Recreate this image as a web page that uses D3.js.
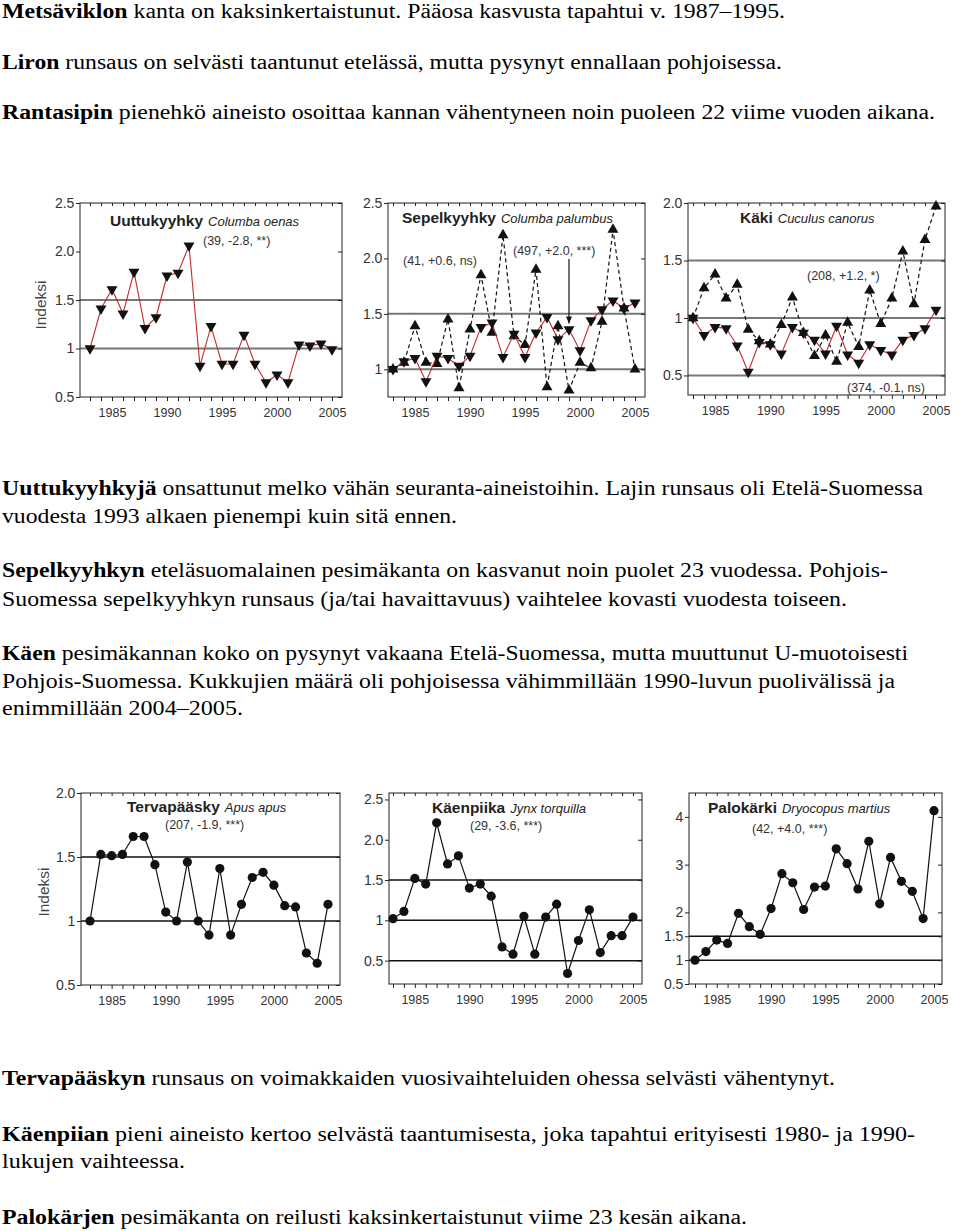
<!DOCTYPE html>
<html>
<head>
<meta charset="utf-8">
<script src="https://cdn.jsdelivr.net/npm/d3@7"></script>
<style>
  body { margin: 0; background: #fff; }
  svg { display: block; }
  .para { font-family: "Liberation Serif", "Times New Roman", "DejaVu Serif", serif; }
  .sans { font-family: "Liberation Sans", Arial, "DejaVu Sans", sans-serif; }
</style>
</head>
<body>
<svg id="page" width="960" height="1231"></svg>
<script>
// ---- data ----
const years = [1983, 1984, 1985, 1986, 1987, 1988, 1989, 1990, 1991, 1992, 1993, 1994,
               1995, 1996, 1997, 1998, 1999, 2000, 2001, 2002, 2003, 2004, 2005];

const uuttuSouth = [1.0, 1.41, 1.61, 1.36, 1.79, 1.21, 1.32, 1.75, 1.78, 2.06, 0.82, 1.23,
                    0.84, 0.84, 1.14, 0.84, 0.65, 0.73, 0.65, 1.04, 1.03, 1.05, 0.99];

const sepelSouth = [1.0, 1.07, 1.10, 0.89, 1.12, 1.10, 1.03, 1.12, 1.38, 1.42, 1.11, 1.32,
                    1.11, 1.33, 1.47, 1.27, 1.36, 1.17, 1.44, 1.54, 1.62, 1.55, 1.60];
const sepelNorth = [1.0, 1.06, 1.39, 1.06, 1.05, 1.45, 0.83, 1.36, 1.85, 1.33, 2.21, 1.30,
                    1.22, 1.90, 0.84, 1.39, 0.81, 1.06, 1.01, 1.43, 2.26, 1.55, 1.0];

const kakiSouth = [1.0, 0.85, 0.92, 0.91, 0.76, 0.53, 0.79, 0.77, 0.69, 0.92, 0.87, 0.81,
                   0.69, 0.93, 0.68, 0.61, 0.77, 0.72, 0.68, 0.81, 0.85, 0.91, 1.07];
const kakiNorth = [1.0, 1.26, 1.38, 1.17, 1.29, 0.90, 0.80, 0.77, 0.94, 1.18, 0.87, 0.67,
                   0.85, 0.62, 0.96, 0.75, 1.24, 0.95, 1.17, 1.58, 1.12, 1.68, 1.97];

const tervaIndex = [1.0, 1.52, 1.51, 1.52, 1.66, 1.66, 1.44, 1.07, 1.0, 1.46, 1.0, 0.89,
                    1.41, 0.89, 1.13, 1.34, 1.38, 1.28, 1.12, 1.11, 0.75, 0.67, 1.13];

const kaenpiikaIndex = [1.02, 1.11, 1.52, 1.45, 2.21, 1.70, 1.80, 1.40, 1.45, 1.30, 0.67, 0.58,
                        1.05, 0.58, 1.04, 1.20, 0.34, 0.75, 1.13, 0.60, 0.81, 0.81, 1.04];

const palokarkiIndex = [1.0, 1.18, 1.42, 1.35, 1.98, 1.70, 1.54, 2.08, 2.81, 2.62, 2.06, 2.53,
                        2.55, 3.33, 3.02, 2.49, 3.49, 2.18, 3.15, 2.65, 2.44, 1.87, 4.13];

const yearLabels = [1985, 1990, 1995, 2000, 2005];
const ticks25 = [0.5, 1, 1.5, 2, 2.5];
const labels25 = ["0.5", "1", "1.5", "2.0", "2.5"];
const ticksSepel = [1, 1.5, 2, 2.5];
const labelsSepel = ["1", "1.5", "2.0", "2.5"];
const ticks20 = [0.5, 1, 1.5, 2];
const labels20 = ["0.5", "1", "1.5", "2.0"];
const ticksPalo = [0.5, 1, 1.5, 2, 3, 4];
const labelsPalo = ["0.5", "1", "1.5", "2", "3", "4"];

// ---- paragraphs ----
const textLines = [
  { y: 18,   end: 785, b: "Metsäviklon", t: " kanta on kaksinkertaistunut. Pääosa kasvusta tapahtui v. 1987–1995." },
  { y: 69,   end: 782, b: "Liron", t: " runsaus on selvästi taantunut etelässä, mutta pysynyt ennallaan pohjoisessa." },
  { y: 119,  end: 935, b: "Rantasipin", t: " pienehkö aineisto osoittaa kannan vähentyneen noin puoleen 22 viime vuoden aikana." },
  { y: 495,  end: 923, b: "Uuttukyyhkyjä", t: " onsattunut melko vähän seuranta-aineistoihin. Lajin runsaus oli Etelä-Suomessa" },
  { y: 523,  end: 457, b: "", t: "vuodesta 1993 alkaen pienempi kuin sitä ennen." },
  { y: 577,  end: 888, b: "Sepelkyyhkyn", t: " eteläsuomalainen pesimäkanta on kasvanut noin puolet 23 vuodessa. Pohjois-" },
  { y: 606,  end: 847, b: "", t: "Suomessa sepelkyyhkyn runsaus (ja/tai havaittavuus) vaihtelee kovasti vuodesta toiseen." },
  { y: 660,  end: 908, b: "Käen", t: " pesimäkannan koko on pysynyt vakaana Etelä-Suomessa, mutta muuttunut U-muotoisesti" },
  { y: 688,  end: 895, b: "", t: "Pohjois-Suomessa. Kukkujien määrä oli pohjoisessa vähimmillään 1990-luvun puolivälissä ja" },
  { y: 715,  end: 243, b: "", t: "enimmillään 2004–2005." },
  { y: 1085, end: 835, b: "Tervapääskyn", t: " runsaus on voimakkaiden vuosivaihteluiden ohessa selvästi vähentynyt." },
  { y: 1141, end: 915, b: "Käenpiian", t: " pieni aineisto kertoo selvästä taantumisesta, joka tapahtui erityisesti 1980- ja 1990-" },
  { y: 1168, end: 185, b: "", t: "lukujen vaihteessa." },
  { y: 1224, end: 747, b: "Palokärjen", t: " pesimäkanta on reilusti kaksinkertaistunut viime 23 kesän aikana." }
];

const svg = d3.select("#page");

textLines.forEach(l => {
  const t = svg.append("text")
    .attr("class", "para")
    .attr("x", 2).attr("y", l.y)
    .attr("font-size", 20.5)
    .attr("fill", "#000")
    .attr("textLength", l.end - 2)
    .attr("lengthAdjust", "spacingAndGlyphs");
  if (l.b) t.append("tspan").attr("font-weight", "bold").text(l.b);
  t.append("tspan").text(l.t);
});

// ---- charts ----
const charts = [
  { box: { l: 80, t: 203, r: 342, b: 397 }, xr: [90, 332], yd: [0.5, 2.5],
    ticks: ticks25, labels: labels25, refs: [1, 1.5], refColor: "#777", refWidth: 2,
    ylabel: { x: 41, y: 305 },
    title: { x: 110, y: 226, b: "Uuttukyyhky", i: "Columba oenas" },
    notes: [{ x: 203, y: 245, t: "(39, -2.8, **)" }],
    series: [{ v: uuttuSouth, mark: "down", red: true }] },
  { box: { l: 388, t: 203, r: 645, b: 397 }, xr: [393, 635], yd: [0.75, 2.5],
    ticks: ticksSepel, labels: labelsSepel, refs: [1, 1.5], refColor: "#777", refWidth: 2,
    title: { x: 402, y: 223, b: "Sepelkyyhky", i: "Columba palumbus" },
    notes: [{ x: 403, y: 265, t: "(41, +0.6, ns)" }, { x: 513, y: 255, t: "(497, +2.0, ***)" }],
    arrow: { year: 1999, y1: 259, series: 0 },
    series: [{ v: sepelSouth, mark: "down", red: true }, { v: sepelNorth, mark: "up", dashed: true }] },
  { box: { l: 688, t: 203, r: 945, b: 395 }, xr: [693, 936], yd: [0.33, 2.0],
    ticks: ticks20, labels: labels20, refs: [0.5, 1, 1.5], refColor: "#777", refWidth: 2,
    title: { x: 740, y: 223, b: "Käki", i: "Cuculus canorus" },
    notes: [{ x: 807, y: 280, t: "(208, +1.2, *)" }, { x: 847, y: 392, t: "(374, -0.1, ns)" }],
    series: [{ v: kakiSouth, mark: "down", red: true }, { v: kakiNorth, mark: "up", dashed: true }] },
  { box: { l: 81, t: 793, r: 340, b: 985 }, xr: [90, 328], yd: [0.5, 2.0],
    ticks: ticks20, labels: labels20, refs: [1, 1.5], refColor: "#111", refWidth: 1.5,
    ylabel: { x: 44, y: 892 },
    title: { x: 127, y: 812, b: "Tervapääsky", i: "Apus apus" },
    notes: [{ x: 165, y: 829, t: "(207, -1.9, ***)" }],
    series: [{ v: tervaIndex, mark: "dot" }] },
  { box: { l: 389, t: 793, r: 642, b: 984 }, xr: [393, 633], yd: [0.21, 2.58],
    ticks: ticks25, labels: labels25, refs: [0.5, 1, 1.5], refColor: "#111", refWidth: 1.5,
    title: { x: 432, y: 813, b: "Käenpiika", i: "Jynx torquilla" },
    notes: [{ x: 470, y: 830, t: "(29, -3.6, ***)" }],
    series: [{ v: kaenpiikaIndex, mark: "dot" }] },
  { box: { l: 689, t: 793, r: 942, b: 984 }, xr: [695, 934], yd: [0.5, 4.5],
    ticks: ticksPalo, labels: labelsPalo, refs: [1, 1.5], refColor: "#111", refWidth: 1.5,
    title: { x: 708, y: 813, b: "Palokärki", i: "Dryocopus martius" },
    notes: [{ x: 752, y: 833, t: "(42, +4.0, ***)" }],
    series: [{ v: palokarkiIndex, mark: "dot" }] }
];

const tri = d3.symbol().type(d3.symbolTriangle).size(52);

function drawChart(c) {
  const g = svg.append("g").attr("class", "sans");
  const b = c.box;
  const x = d3.scaleLinear().domain([1983, 2005]).range(c.xr);
  const y = d3.scaleLinear().domain(c.yd).range([b.b, b.t]);

  // reference lines
  g.selectAll(".ref").data(c.refs).enter().append("line")
    .attr("x1", b.l).attr("x2", b.r)
    .attr("y1", d => y(d)).attr("y2", d => y(d))
    .attr("stroke", c.refColor).attr("stroke-width", c.refWidth);

  // axes
  const bottom = g.append("g").attr("transform", `translate(0,${b.b})`)
    .call(d3.axisBottom(x).tickValues(years).tickSize(4)
      .tickFormat(d => yearLabels.includes(d) ? d : ""));
  bottom.selectAll("text").attr("font-size", 12.5)
    .attr("fill", "#333").attr("dy", "1.05em");
  const top = g.append("g").attr("transform", `translate(0,${b.t})`)
    .call(d3.axisTop(x).tickValues(years).tickSize(-3).tickFormat(""));
  const left = g.append("g").attr("transform", `translate(${b.l},0)`)
    .call(d3.axisLeft(y).tickValues(c.ticks).tickSize(4)
      .tickFormat((d, i) => c.labels[i]));
  left.selectAll("text").attr("font-size", 14)
    .attr("fill", "#333").attr("dx", "0.1em");
  const right = g.append("g").attr("transform", `translate(${b.r},0)`)
    .call(d3.axisRight(y).tickValues(c.ticks).tickSize(-4).tickFormat(""));
  [bottom, top, left, right].forEach(a => {
    a.attr("font-family", null);
    a.select(".domain").remove();
    a.selectAll("line").attr("stroke", "#222");
  });

  g.append("rect").attr("x", b.l).attr("y", b.t)
    .attr("width", b.r - b.l).attr("height", b.b - b.t)
    .attr("fill", "none").attr("stroke", "#222").attr("stroke-width", 1);

  // series: dashed first so the red line sits on top
  const order = c.series.slice().sort((a, s) => (s.dashed ? 1 : 0) - (a.dashed ? 1 : 0));
  order.forEach(s => {
    const line = d3.line().x((d, i) => x(years[i])).y(d => y(d));
    g.append("path").datum(s.v).attr("d", line)
      .attr("fill", "none")
      .attr("stroke", s.red ? "#c42a2a" : "#111")
      .attr("stroke-width", s.red ? 1.1 : 1.2)
      .attr("stroke-dasharray", s.dashed ? "4,3" : null);
    if (s.mark === "dot") {
      g.selectAll(null).data(s.v).enter().append("circle")
        .attr("cx", (d, i) => x(years[i])).attr("cy", d => y(d))
        .attr("r", 4.6).attr("fill", "#111");
    } else {
      g.selectAll(null).data(s.v).enter().append("path")
        .attr("d", tri)
        .attr("transform", (d, i) => `translate(${x(years[i])},${y(d)})` +
          (s.mark === "down" ? " rotate(180)" : ""))
        .attr("fill", "#111");
    }
  });

  // arrow from the note down to the southern index
  if (c.arrow) {
    const ax = x(c.arrow.year);
    const v = c.series[c.arrow.series].v[years.indexOf(c.arrow.year)];
    const yEnd = y(v) - 6;
    g.append("line").attr("x1", ax).attr("x2", ax).attr("y1", c.arrow.y1).attr("y2", yEnd)
      .attr("stroke", "#111").attr("stroke-width", 1.2);
    g.append("path")
      .attr("d", `M${ax - 3},${yEnd - 7}L${ax + 3},${yEnd - 7}L${ax},${yEnd}Z`)
      .attr("fill", "#111");
  }

  // title and notes
  const tt = g.append("text").attr("x", c.title.x).attr("y", c.title.y).attr("fill", "#222");
  tt.append("tspan").attr("font-weight", "bold").attr("font-size", 15.5).text(c.title.b);
  tt.append("tspan").attr("font-style", "italic").attr("font-size", 13).attr("dx", 5).text(c.title.i);
  c.notes.forEach(n => {
    g.append("text").attr("x", n.x).attr("y", n.y)
      .attr("font-size", 12.5).attr("fill", "#333").text(n.t);
  });

  if (c.ylabel) {
    g.append("text")
      .attr("transform", `translate(${c.ylabel.x + 5},${c.ylabel.y}) rotate(-90)`)
      .attr("text-anchor", "middle")
      .attr("font-size", 15.5).attr("fill", "#444")
      .text("Indeksi");
  }
}

charts.forEach(drawChart);
</script>
</body>
</html>
